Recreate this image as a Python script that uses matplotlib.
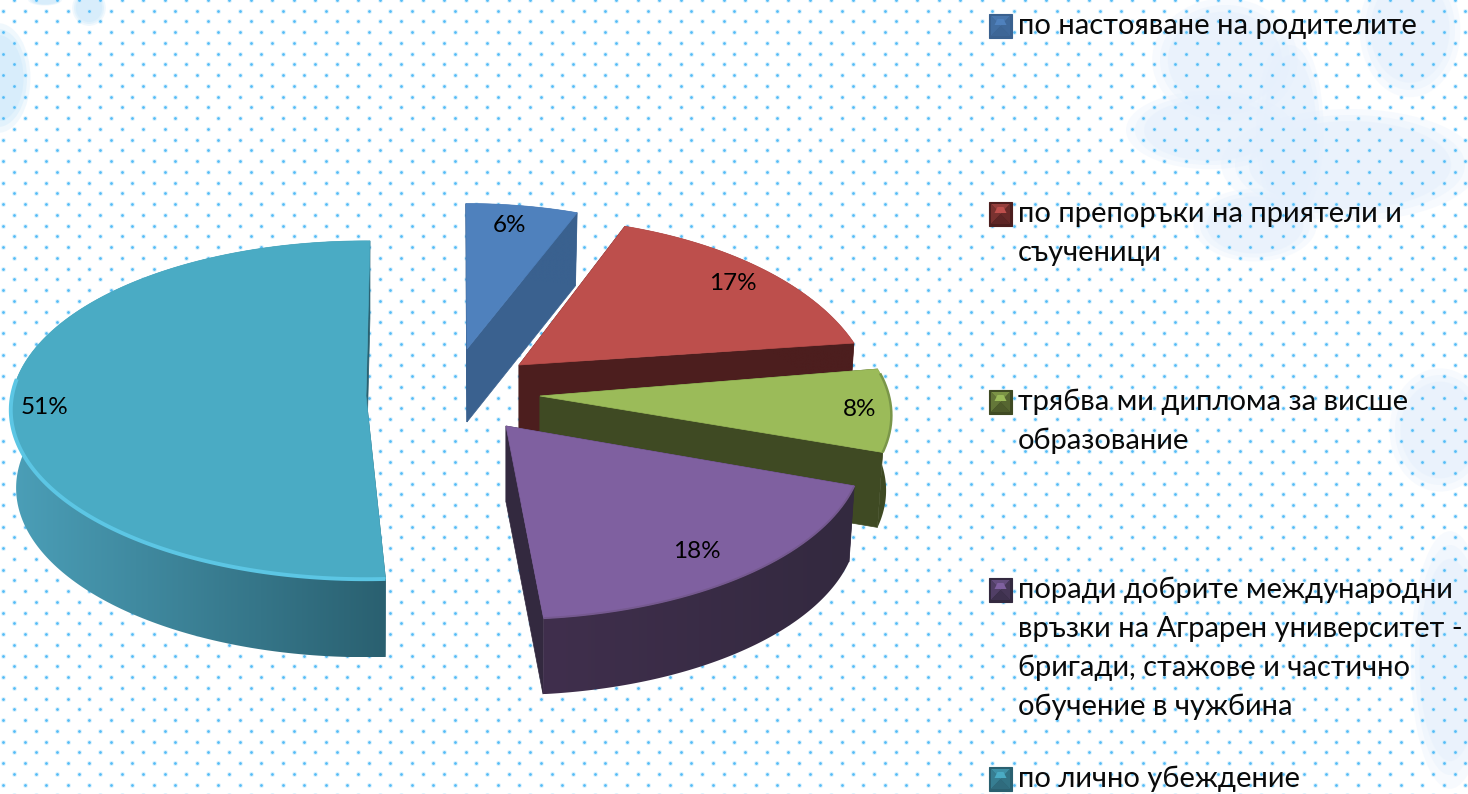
import numpy as np
import matplotlib
matplotlib.use("Agg")
import matplotlib.pyplot as plt
from matplotlib.colors import LinearSegmentedColormap, to_rgb
from matplotlib.patches import Ellipse, Polygon

# shares in percent, clockwise from the top
shares = [6, 17, 8, 18, 51]
legend_labels = [
    "по настояване на родителите",
    "по препоръки на приятели и\nсъученици",
    "трябва ми диплома за висше\nобразование",
    "поради добрите международни\nвръзки на Аграрен университет -\nбригади, стажове и частично\nобучение в чужбина",
    "по лично убеждение",
]

top_colors = ["#4f81bd", "#bd4f4c", "#9bbb59", "#7f60a0", "#4aabc4"]
side_colors = ["#3a618f", "#4c1e1e", "#3f4a23", "#33293f", "#2a6070"]
rim_left = ["#3a618f", "#4c1e1e", "#3f4a23", "#402f4d", "#4b9fb8"]
bevel_colors = ["#44709f", "#a84643", "#7a9649", "#75598f", "#5cc6e4"]
bevel_width = [1.0, 1.0, 1.8, 1.4, 2.8]

# exploded slices: tip position, radii, perspective, rotation, thickness
tip_x = [467, 519, 540, 506, 366]
tip_y = [349, 365, 396, 426, 396]
rad_x = [330, 347, 349, 354, 354]
rad_y = [160, 180, 165, 168, 168]
persp = [0.1, 0.222, 0.116, 0.13, 0.083]
rot = [-0.2, 0.0, -2.4, -1.7, 0.7]
depth = [73, 76, 75, 76, 78]
shrink = 0.985  # lower face looks a little smaller

label_x = [509, 733, 860, 697, 45]
label_y = [226, 283, 410, 552, 408]
legend_y = [26, 214, 402, 590, 779]

plt.rcParams["font.family"] = ["Lato", "Open Sans", "DejaVu Sans"]

fig = plt.figure(figsize=(14.68, 7.94), dpi=100)
ax = fig.add_axes([0, 0, 1, 1])
ax.set_xlim(0, 1468)
ax.set_ylim(794, 0)
ax.axis("off")

# faint clouds behind the dots
clouds = [(-2, 78, 58, 98), (89, 8, 30, 32), (45, 0, 30, 10),
          (1225, 60, 130, 110), (1210, 130, 150, 70), (1350, 165, 230, 100),
          (1255, 225, 110, 65), (1410, 30, 90, 120), (1440, 430, 90, 110),
          (1450, 660, 70, 230), (1290, 130, 60, 170)]
for cx, cy, w, h in clouds:
    for scale, alpha in [(1.12, 0.3), (1.0, 0.4), (0.88, 0.5)]:
        ax.add_patch(Ellipse((cx, cy), w * scale, h * scale, color="#cfe9fb" if cx < 300 else "#e6f0fc",
                             alpha=alpha, lw=0, zorder=0))

# dotted background
col_x = np.arange(3.3, 1480, 21.5)
row_y = np.arange(-0.1, 800, 10.75)
gx, gy = [], []
for i, y in enumerate(row_y):
    off = 0 if i % 2 == 1 else 10.75
    gx.extend(col_x + off)
    gy.extend([y] * len(col_x))
ax.scatter(gx, gy, s=13, color="#c4e9fc", lw=0, alpha=0.55, zorder=1)
ax.scatter(gx, gy, s=4, color="#55bcf7", lw=0, zorder=1)


def gradient_fill(xy, left, right, z):
    poly = Polygon(xy, closed=True, fc="none", ec="none", zorder=z)
    ax.add_patch(poly)
    cmap = LinearSegmentedColormap.from_list("rim", [left, right])
    x0, x1 = xy[:, 0].min(), xy[:, 0].max()
    y0, y1 = xy[:, 1].min(), xy[:, 1].max()
    im = ax.imshow(np.linspace(0, 1, 256).reshape(1, -1), cmap=cmap, aspect="auto",
                   extent=[x0, x1, y1, y0], zorder=z, interpolation="bilinear")
    im.set_clip_path(poly)


def outline(i, ang):
    t = np.radians(ang + rot[i])
    w = 1 + persp[i] * np.cos(t)
    return tip_x[i] + rad_x[i] * np.sin(t) / w, tip_y[i] - rad_y[i] * np.cos(t) / w


def mix(c1, c2, f):
    return tuple(a * (1 - f) + b * f for a, b in zip(to_rgb(c1), to_rgb(c2)))


edges = np.concatenate([[0], np.cumsum(shares)]) * 3.6
draw_order = [0, 4, 1, 2, 3]
for n, i in enumerate(draw_order):
    z = 3 + n * 5
    ang = np.linspace(edges[i], edges[i + 1], 200)
    ax_x, ax_y = outline(i, ang)
    low_x = tip_x[i] + (ax_x - tip_x[i]) * shrink
    d = depth[i]

    # both cut faces
    for end in (0, -1):
        quad = [(tip_x[i], tip_y[i]), (ax_x[end], ax_y[end]),
                (low_x[end], ax_y[end] + d), (tip_x[i], tip_y[i] + d)]
        ax.add_patch(Polygon(quad, closed=True, fc=side_colors[i], ec=side_colors[i], lw=0.5, zorder=z))

    # outer rim
    rim = np.column_stack([np.r_[ax_x, low_x[::-1]], np.r_[ax_y, ax_y[::-1] + d]])
    gradient_fill(rim, rim_left[i], side_colors[i], z + 1)

    # top face
    top = np.column_stack([np.r_[tip_x[i], ax_x], np.r_[tip_y[i], ax_y]])
    ax.add_patch(Polygon(top, closed=True, fc=top_colors[i], ec=top_colors[i], lw=0.5, zorder=z + 2))

    # bevel on the front of the arc
    front = np.cos(np.radians(ang)) < 0.1
    if front.any():
        ax.plot(ax_x[front], ax_y[front], color=bevel_colors[i], lw=bevel_width[i], zorder=z + 3,
                solid_capstyle="butt")

    ax.text(label_x[i], label_y[i], "%d%%" % shares[i], fontsize=17.5, ha="center", va="center",
            color="black", zorder=40)

# legend with bevelled keys
for i, lab in enumerate(legend_labels):
    yc = legend_y[i]
    x0, x1, y0, y1 = 989, 1012, yc - 12, yc + 12
    xm, ym = (x0 + x1) / 2, (y0 + y1) / 2
    ax.add_patch(Polygon([(x0, y0), (x1, y0), (x1, y1), (x0, y1)], fc=side_colors[i],
                         ec=side_colors[i], lw=0.8, zorder=41))
    a0, a1, b0, b1 = x0 + 2, x1 - 2, y0 + 2, y1 - 2
    ax.add_patch(Polygon([(a0, b0), (a1, b0), (xm, ym)], fc=mix(top_colors[i], side_colors[i], 0.35), lw=0, zorder=42))
    ax.add_patch(Polygon([(a0, b0), (a0, b1), (xm, ym)], fc=mix(top_colors[i], side_colors[i], 0.6), lw=0, zorder=42))
    ax.add_patch(Polygon([(a1, b0), (a1, b1), (xm, ym)], fc=mix(top_colors[i], side_colors[i], 0.75), lw=0, zorder=42))
    ax.add_patch(Polygon([(a0, b1), (a1, b1), (xm, ym)], fc=mix(top_colors[i], side_colors[i], 0.85), lw=0, zorder=42))
    ax.add_patch(Polygon([(xm - 6, ym - 1), (xm + 6, ym - 1), (xm + 3, b0 + 3), (xm - 3, b0 + 3)],
                         fc=top_colors[i], lw=0, zorder=43))
    ax.text(1018, yc, lab.split("\n")[0], fontsize=21, ha="left", va="center", color="#0a0a0a", zorder=44)
    for j, extra in enumerate(lab.split("\n")[1:]):
        ax.text(1018, yc + 39 * (j + 1), extra, fontsize=21, ha="left", va="center", color="#0a0a0a", zorder=44)

ax.set_xlim(0, 1468)
ax.set_ylim(794, 0)
fig.savefig("out.png", dpi=100, facecolor="white")
